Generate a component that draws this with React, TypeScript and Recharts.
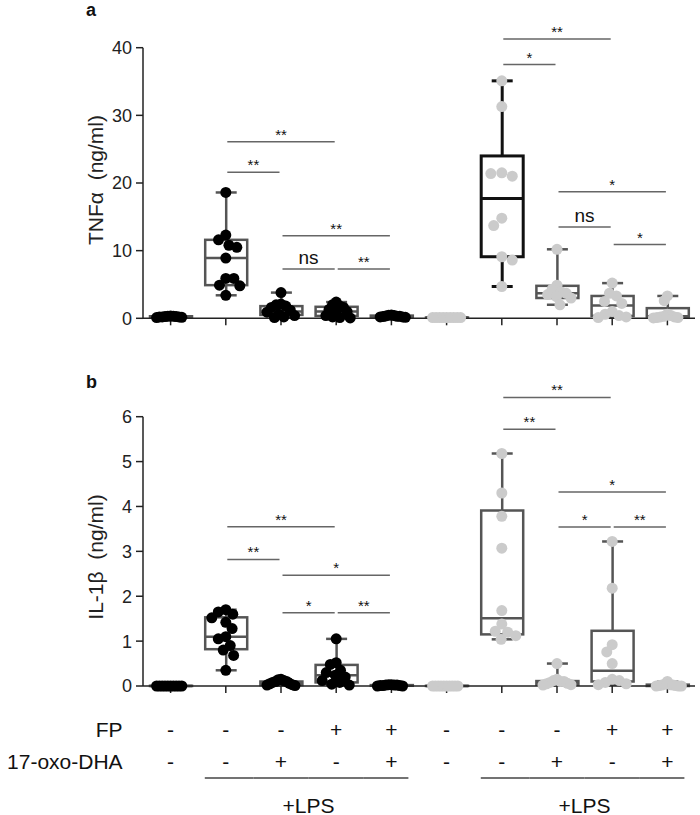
import React from "react";
import { ComposedChart, Bar, Scatter, XAxis, YAxis, ReferenceLine } from "recharts";

const GROUPS = ["g1", "g2", "g3", "g4", "g5", "g6", "g7", "g8", "g9", "g10"];

// treatment table under panel b
const FP = ["-", "-", "-", "+", "+", "-", "-", "-", "+", "+"];
const OXO_DHA = ["-", "-", "+", "-", "+", "-", "-", "+", "-", "+"];
const LPS = [false, true, true, true, true, false, true, true, true, true];

// panel a: TNFα (ng/ml)
const TNF_POINTS = [
  [0.1, 0.15, 0.2, 0.2, 0.25, 0.3, 0.3, 0.35, 0.2, 0.25],
  [18.6, 12.3, 11.6, 10.8, 10.5, 8.9, 5.9, 5.9, 4.9, 4.8, 3.4],
  [3.8, 2.1, 2.0, 1.8, 1.6, 1.2, 0.9, 0.6, 0.4, 0.2, 0.1],
  [2.4, 2.0, 1.8, 1.6, 1.3, 1.0, 0.7, 0.4, 0.2, 0.1, 0.05],
  [0.5, 0.45, 0.4, 0.35, 0.3, 0.3, 0.25, 0.2, 0.2, 0.15],
  [0.1, 0.1, 0.1, 0.1, 0.1, 0.1, 0.1, 0.1, 0.1],
  [35.1, 31.3, 21.5, 21.0, 21.4, 14.8, 13.7, 9.1, 8.6, 4.7],
  [10.2, 4.9, 4.3, 3.9, 3.7, 3.5, 3.2, 3.0, 2.0],
  [5.2, 3.7, 3.3, 2.5, 2.2, 1.0, 0.6, 0.4, 0.2, 0.1],
  [3.3, 2.6, 0.6, 0.4, 0.3, 0.2, 0.2, 0.1, 0.1, 0.05],
];
const TNF_MIN = [0.1, 3.4, 0.1, 0.05, 0.15, 0.05, 4.7, 2.0, 0.1, 0.05];
const TNF_Q1 = [0.15, 4.9, 0.5, 0.35, 0.2, 0.08, 9.1, 3.0, 0.35, 0.25];
const TNF_MED = [0.22, 8.9, 1.0, 1.0, 0.3, 0.1, 17.7, 3.7, 1.9, 0.3];
const TNF_Q3 = [0.3, 11.6, 1.8, 1.7, 0.4, 0.12, 24.0, 4.8, 3.3, 1.5];
const TNF_MAX = [0.35, 18.6, 3.8, 2.4, 0.5, 0.15, 35.1, 10.2, 5.2, 3.3];
const TNF_TICKS = [0, 10, 20, 30, 40];
const TNF_BRACKETS: [string, string, number, string][] = [
  ["g2", "g4", 26.1, "**"],
  ["g2", "g3", 21.6, "**"],
  ["g3", "g5", 12.2, "**"],
  ["g3", "g4", 7.3, "ns"],
  ["g4", "g5", 7.3, "**"],
  ["g7", "g9", 41.3, "**"],
  ["g7", "g8", 37.5, "*"],
  ["g8", "g10", 18.7, "*"],
  ["g8", "g9", 13.5, "ns"],
  ["g9", "g10", 10.9, "*"],
];

// panel b: IL-1β (ng/ml)
const IL_POINTS = [
  [0, 0, 0, 0, 0, 0, 0, 0, 0, 0],
  [1.7, 1.65, 1.6, 1.52, 1.42, 1.28, 1.1, 1.05, 0.9, 0.8, 0.68, 0.35],
  [0.15, 0.14, 0.12, 0.1, 0.1, 0.08, 0.06, 0.05, 0.03, 0.02, 0.01],
  [1.05, 0.52, 0.48, 0.35, 0.3, 0.24, 0.2, 0.12, 0.08, 0.04, 0.02],
  [0.03, 0.03, 0.02, 0.02, 0.02, 0.01, 0.01, 0.01, 0, 0],
  [0, 0, 0, 0, 0, 0, 0, 0, 0, 0],
  [5.18, 4.3, 3.78, 3.07, 1.68, 1.38, 1.22, 1.2, 1.12, 1.04],
  [0.5, 0.15, 0.12, 0.1, 0.1, 0.08, 0.06, 0.05, 0.03, 0.02],
  [3.22, 2.18, 0.92, 0.76, 0.5, 0.15, 0.12, 0.08, 0.05, 0.03],
  [0.1, 0.04, 0.03, 0.02, 0.02, 0.01, 0.01, 0, 0, 0],
];
const IL_MIN = [0, 0.35, 0.01, 0.02, 0, 0, 1.04, 0.02, 0.03, 0];
const IL_Q1 = [0, 0.82, 0.02, 0.08, 0.005, 0, 1.15, 0.03, 0.1, 0];
const IL_MED = [0, 1.1, 0.07, 0.24, 0.01, 0, 1.51, 0.08, 0.34, 0.01];
const IL_Q3 = [0.005, 1.53, 0.1, 0.47, 0.02, 0.005, 3.91, 0.11, 1.23, 0.03];
const IL_MAX = [0.01, 1.7, 0.15, 1.05, 0.03, 0.01, 5.18, 0.5, 3.22, 0.1];
const IL_TICKS = [0, 1, 2, 3, 4, 5, 6];
const IL_BRACKETS: [string, string, number, string][] = [
  ["g2", "g4", 3.55, "**"],
  ["g2", "g3", 2.82, "**"],
  ["g3", "g5", 2.47, "*"],
  ["g3", "g4", 1.63, "*"],
  ["g4", "g5", 1.63, "**"],
  ["g7", "g9", 6.43, "**"],
  ["g7", "g8", 5.72, "**"],
  ["g8", "g10", 4.32, "*"],
  ["g8", "g9", 3.54, "*"],
  ["g9", "g10", 3.54, "**"],
];

const FONT = '"Liberation Sans", Arial, Helvetica, sans-serif';
const W = 700;
const DOT_R = 5.5;
const BOX_W = 42;
const AXIS = "#222";
const BOX_GREY = "#555";
const DOT_GREY = "#cbcbcb";
const BAND = (W - 43 - 100 - 5) / GROUPS.length;

// spread points sideways like a prism scatter-dot plot
function swarm(values: number[], ppu: number) {
  const D = DOT_R * 2;
  const order = values.map((_, i) => i).sort((a, b) => values[b] - values[a]);
  const placed: { x: number; y: number }[] = [];
  const dx = values.map(() => 0);
  let flip = 1;
  for (const i of order) {
    const y = values[i] * ppu;
    const cands = [0];
    for (const p of placed) {
      const dy = Math.abs(p.y - y);
      if (dy < D) {
        const w = Math.sqrt(D * D - dy * dy);
        cands.push(p.x + w, p.x - w);
      }
    }
    const ok = (x: number) =>
      placed.every((p) => (p.x - x) ** 2 + (p.y - y) ** 2 >= D * D - 0.01);
    const valid = cands
      .filter(ok)
      .sort((a, b) => Math.abs(a) - Math.abs(b) || (a - b) * flip);
    const x = valid.length ? valid[0] : 0;
    if (x !== 0) flip = -flip;
    placed.push({ x, y });
    dx[i] = x;
  }
  const m = Math.max(...dx.map(Math.abs));
  const lim = 14;
  return m > lim ? dx.map((v) => (v * lim) / m) : dx;
}

function BoxShape(props: any) {
  const { x, y, width, height, payload } = props;
  const { min, q1, med, q3, max, dark } = payload;
  const span = max - min || 1;
  const py = (v: number) => y + (height * (max - v)) / span;
  const cx = x + width / 2;
  const cap = 10.5;
  const color = dark ? "#111" : BOX_GREY;
  const sw = dark ? 3 : 2.5;
  return (
    <g stroke={color} strokeWidth={sw} fill="none">
      <line x1={cx} x2={cx} y1={py(max)} y2={py(q3)} />
      <line x1={cx} x2={cx} y1={py(q1)} y2={py(min)} />
      <line x1={cx - cap} x2={cx + cap} y1={py(max)} y2={py(max)} />
      <line x1={cx - cap} x2={cx + cap} y1={py(min)} y2={py(min)} />
      <rect x={x} y={py(q3)} width={width} height={Math.max(py(q1) - py(q3), 0)} />
      <line x1={x} x2={x + width} y1={py(med)} y2={py(med)} />
    </g>
  );
}

// bracket line, pulled in a little at both ends so neighbours don't touch
function BracketLine(props: any) {
  const { x1, x2, y1, y2 } = props;
  const lo = Math.min(x1, x2) + 1.5;
  const hi = Math.max(x1, x2) - 1.5;
  return <line x1={lo} x2={hi} y1={y1} y2={y2} stroke="#666" strokeWidth={1.5} />;
}

function TableTick(props: any) {
  const { x, y, payload } = props;
  const i = GROUPS.indexOf(payload.value);
  const half = BAND / 2;
  const first = LPS[i] && !LPS[i - 1];
  const last = LPS[i] && !LPS[i + 1];
  const showLabel = LPS[i] && LPS[i - 1] && !LPS[i - 2];
  return (
    <g fontSize={21} fill="#111" fontFamily={FONT}>
      {i === 0 && (
        <>
          <text x={x - 48} y={y + 41.5} textAnchor="end">FP</text>
          <text x={x - 48} y={y + 74} textAnchor="end">17-oxo-DHA</text>
        </>
      )}
      <text x={x} y={y + 41.5} textAnchor="middle">{FP[i]}</text>
      <text x={x} y={y + 74} textAnchor="middle">{OXO_DHA[i]}</text>
      {LPS[i] && (
        <line
          x1={first ? x - 21 : x - half}
          x2={last ? x + 17 : x + half}
          y1={y + 83}
          y2={y + 83}
          stroke="#444"
          strokeWidth={1.5}
        />
      )}
      {showLabel && (
        <text x={x + half} y={y + 117.5} textAnchor="middle">+LPS</text>
      )}
    </g>
  );
}

const EmptyTick = () => <g />;

interface PanelProps {
  top: number;
  height: number;
  marginTop: number;
  marginBottom: number;
  xAxisHeight: number;
  points: number[][];
  mins: number[];
  q1s: number[];
  meds: number[];
  q3s: number[];
  maxs: number[];
  ticks: number[];
  brackets: [string, string, number, string][];
  darkBox: number;
  table?: boolean;
}

function Panel(p: PanelProps) {
  const yMax = p.ticks[p.ticks.length - 1];
  const plotH = p.height - p.marginTop - p.marginBottom - p.xAxisHeight;
  const ppu = plotH / yMax;

  const boxes = GROUPS.map((g, i) => ({
    group: g,
    min: p.mins[i],
    q1: p.q1s[i],
    med: p.meds[i],
    q3: p.q3s[i],
    max: p.maxs[i],
    dark: i === p.darkBox,
  }));

  const pts = p.points.flatMap((vals, gi) => {
    const dx = swarm(vals, ppu);
    return vals.map((v, k) => ({ group: GROUPS[gi], value: v, dx: dx[k], gi }));
  });
  const blackPts = pts.filter((d) => d.gi < 5);
  const greyPts = pts.filter((d) => d.gi >= 5);

  const dot = (fill: string) => (s: any) => (
    <circle cx={s.cx + (s.payload?.dx ?? 0)} cy={s.cy} r={DOT_R} fill={fill} />
  );

  return (
    <div style={{ position: "absolute", left: 0, top: p.top }}>
      <ComposedChart
        width={W}
        height={p.height}
        data={boxes}
        margin={{ top: p.marginTop, right: 5, bottom: p.marginBottom, left: 43 }}
      >
        <XAxis
          dataKey="group"
          type="category"
          allowDuplicatedCategory={false}
          height={p.xAxisHeight}
          axisLine={{ stroke: AXIS, strokeWidth: 1.5 }}
          tickLine={{ stroke: AXIS, strokeWidth: 1.5 }}
          tickSize={7}
          tick={p.table ? TableTick : EmptyTick}
          interval={0}
        />
        <YAxis
          type="number"
          domain={[0, yMax]}
          ticks={p.ticks}
          width={100}
          axisLine={{ stroke: AXIS, strokeWidth: 1.5 }}
          tickLine={{ stroke: AXIS, strokeWidth: 1.5 }}
          tickSize={7}
          tickMargin={4}
          tick={{ fontSize: 18, fill: "#222" }}
        />
        <Bar
          dataKey={(d: any) => [d.min, d.max]}
          barSize={BOX_W}
          shape={BoxShape}
          isAnimationActive={false}
        />
        <Scatter data={blackPts} dataKey="value" shape={dot("#000")} isAnimationActive={false} />
        <Scatter data={greyPts} dataKey="value" shape={dot(DOT_GREY)} isAnimationActive={false} />
        {p.brackets.map(([a, b, yv, lab], i) => (
          <ReferenceLine
            key={i}
            segment={[
              { x: a, y: yv },
              { x: b, y: yv },
            ]}
            ifOverflow="visible"
            stroke="#666"
            strokeWidth={1.5}
            shape={BracketLine}
            label={{
              value: lab,
              position: "top",
              offset: lab === "ns" ? 5 : 2,
              fontSize: lab === "ns" ? 19 : 15,
              fill: "#111",
            }}
          />
        ))}
      </ComposedChart>
    </div>
  );
}

export default function App() {
  return (
    <div
      style={{
        position: "absolute",
        left: 0,
        top: 0,
        width: W,
        height: 815,
        background: "#fff",
        fontFamily: FONT,
      }}
    >
      <Panel
        top={0}
        height={350}
        marginTop={47.7}
        marginBottom={11.7}
        xAxisHeight={20}
        points={TNF_POINTS}
        mins={TNF_MIN}
        q1s={TNF_Q1}
        meds={TNF_MED}
        q3s={TNF_Q3}
        maxs={TNF_MAX}
        ticks={TNF_TICKS}
        brackets={TNF_BRACKETS}
        darkBox={6}
      />
      <Panel
        top={350}
        height={465}
        marginTop={66.7}
        marginBottom={9}
        xAxisHeight={120}
        points={IL_POINTS}
        mins={IL_MIN}
        q1s={IL_Q1}
        meds={IL_MED}
        q3s={IL_Q3}
        maxs={IL_MAX}
        ticks={IL_TICKS}
        brackets={IL_BRACKETS}
        darkBox={-1}
        table
      />
      <svg
        width={W}
        height={815}
        style={{ position: "absolute", left: 0, top: 0, pointerEvents: "none" }}
        fontFamily={FONT}
      >
        <text x={86} y={16} fontSize={18} fontWeight="bold" fill="#111">a</text>
        <text x={86} y={388} fontSize={18} fontWeight="bold" fill="#111">b</text>
        <text
          x={103}
          y={180}
          fontSize={21}
          fill="#222"
          textAnchor="middle"
          xmlSpace="preserve"
          transform="rotate(-90 103 180)"
        >
          {"TNFα  (ng/ml)"}
        </text>
        <text
          x={103}
          y={557}
          fontSize={21}
          fill="#222"
          textAnchor="middle"
          xmlSpace="preserve"
          transform="rotate(-90 103 557)"
        >
          {"IL-1β  (ng/ml)"}
        </text>
      </svg>
    </div>
  );
}
